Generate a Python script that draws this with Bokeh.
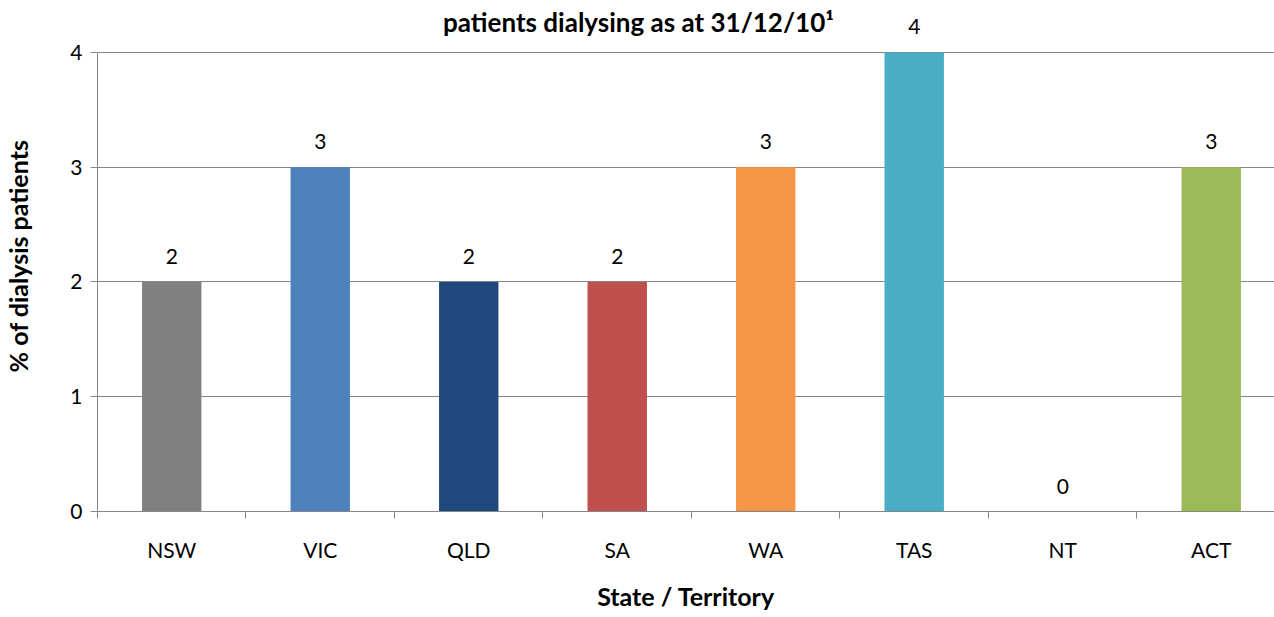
from bokeh.plotting import figure
from bokeh.models import ColumnDataSource, FixedTicker, Range1d, Label, LabelSet
from bokeh.core.properties import value
from bokeh.embed import file_html
from bokeh.resources import INLINE

states = ["NSW", "VIC", "QLD", "SA", "WA", "TAS", "NT", "ACT"]
values = [2, 3, 2, 2, 3, 4, 0, 3]
colors = ["#808080", "#4F81BD", "#1F497D", "#C0504D", "#F79646", "#4BACC6", "#8064A2", "#9BBB59"]
y_ticks = [0, 1, 2, 3, 4]
title_text = "patients dialysing as at 31/12/10\u00b9"
x_title = "State / Territory"
y_title = "% of dialysis patients"

FONT = "Lato"
xpos = [i + 0.5 for i in range(len(states))]
src = ColumnDataSource(dict(x=xpos, top=values, color=colors, lab=[str(v) for v in values]))

p = figure(width=1274, height=614, output_backend="svg", toolbar_location=None,
           x_range=Range1d(0, 7.926), y_range=Range1d(0, 4.453),
           min_border_left=97, min_border_right=0, min_border_top=0, min_border_bottom=103)
p.title.visible = False
p.outline_line_color = None
p.background_fill_color = "white"
p.border_fill_color = "white"

p.vbar(x="x", top="top", width=0.40, color="color", source=src, line_color=None)

labels = LabelSet(x="x", y="top", text="lab", source=src, text_align="center",
                  text_baseline="alphabetic", y_offset=18, text_font=value(FONT),
                  text_font_size="21px", text_color="#000000")
p.add_layout(labels)

# x axis
p.xaxis.ticker = FixedTicker(ticks=xpos, minor_ticks=list(range(len(states) + 1)))
p.xaxis.major_label_overrides = {x: s for x, s in zip(xpos, states)}
p.xaxis.major_tick_line_color = None
p.xaxis.minor_tick_in = 0
p.xaxis.minor_tick_out = 7
p.xaxis.minor_tick_line_color = "#868686"
p.xaxis.axis_line_color = "#868686"
p.xaxis.major_label_standoff = 18
p.xaxis.major_label_text_font = FONT
p.xaxis.major_label_text_font_size = "21px"
p.xaxis.major_label_text_color = "#000000"
p.xaxis.axis_label = x_title
p.xaxis.axis_label_text_font = FONT
p.xaxis.axis_label_text_font_size = "25px"
p.xaxis.axis_label_text_font_style = "bold"
p.xaxis.axis_label_text_color = "#000000"
p.xaxis.axis_label_standoff = 16
p.xgrid.visible = False

# y axis
p.yaxis.ticker = FixedTicker(ticks=y_ticks)
p.yaxis.bounds = (0, 4)
p.yaxis.major_tick_in = 0
p.yaxis.major_tick_out = 7
p.yaxis.major_tick_line_color = "#868686"
p.yaxis.minor_tick_line_color = None
p.yaxis.axis_line_color = "#868686"
p.yaxis.major_label_standoff = 8
p.yaxis.major_label_text_font = FONT
p.yaxis.major_label_text_font_size = "21px"
p.yaxis.major_label_text_color = "#000000"
p.yaxis.axis_label = y_title
p.yaxis.axis_label_text_font = FONT
p.yaxis.axis_label_text_font_size = "25px"
p.yaxis.axis_label_text_font_style = "bold"
p.yaxis.axis_label_text_color = "#000000"
p.yaxis.axis_label_standoff = 34
p.ygrid.ticker = FixedTicker(ticks=y_ticks)
p.ygrid.grid_line_color = "#868686"
p.ygrid.grid_line_width = 1

title = Label(x=3.643, y=4.265, text=title_text, text_align="center",
              text_baseline="alphabetic", text_font=FONT, text_font_size="26px",
              text_font_style="bold", text_color="#000000")
p.add_layout(title)

open("out.html", "w").write(file_html(p, INLINE))
